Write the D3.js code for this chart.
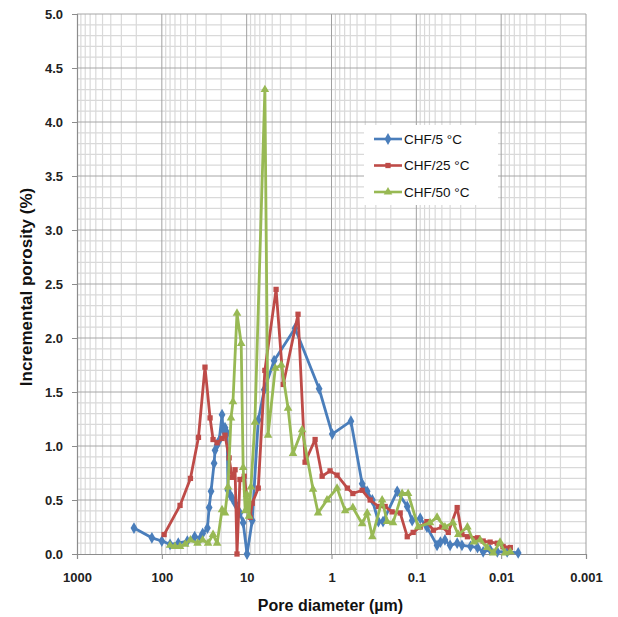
<!DOCTYPE html>
<html>
<head>
<meta charset="utf-8">
<script src="https://cdn.jsdelivr.net/npm/d3@7"></script>
<style>
  body { margin: 0; background: #fff; }
  svg { display: block; }
  .tick-label { font-family: "Liberation Sans", Arial, sans-serif; font-weight: bold; font-size: 13px; fill: #222; }
  .axis-title { font-family: "Liberation Sans", Arial, sans-serif; font-weight: bold; font-size: 16px; fill: #111; }
  .legend text { font-family: "Liberation Sans", Arial, sans-serif; font-size: 13.5px; fill: #111; }
</style>
</head>
<body>
<div id="chart"></div>
<script>
// pore diameter (µm) / incremental porosity (%)
const chf5_d = [213, 131, 100, 80, 64, 50, 41, 35, 33, 29, 27.7, 26.3, 24.2, 23.6, 22.3, 21.1, 19.5, 19.0, 18.0, 17.0,
  16.6, 15.7, 14.9, 13.7, 12.0, 11.0, 9.9, 8.6, 7.3, 6.2, 4.75, 2.69, 1.40, 0.98, 0.59, 0.435, 0.38, 0.33, 0.28, 0.247,
  0.168, 0.128, 0.112, 0.090, 0.075, 0.057, 0.052, 0.046, 0.040, 0.033, 0.029, 0.023, 0.019, 0.0163, 0.0135, 0.0111, 0.0085, 0.0063]
const chf5_v = [0.24, 0.15, 0.12, 0.09, 0.10, 0.12, 0.16, 0.15, 0.19, 0.24, 0.43, 0.58, 0.84, 0.96, 1.01, 1.05, 1.29, 1.15, 1.17, 1.12,
  0.59, 0.55, 0.52, 0.47, 0.38, 0.29, 0.00, 0.31, 1.24, 1.52, 1.79, 2.09, 1.53, 1.11, 1.23, 0.65, 0.58, 0.50, 0.30, 0.30,
  0.58, 0.44, 0.31, 0.33, 0.25, 0.08, 0.11, 0.13, 0.08, 0.10, 0.08, 0.07, 0.06, 0.02, 0.04, 0.02, 0.02, 0.01]

const chf25_d = [94, 61, 46, 37, 31, 27, 24.9, 22.3, 19.5, 18.0, 16.1, 14.9, 13.7, 13.0, 12.0, 10.7, 9.6, 9.1, 8.6, 7.3,
  6.1, 4.5, 3.7, 2.48, 2.05, 1.56, 1.29, 1.04, 0.86, 0.65, 0.56, 0.435, 0.35, 0.28, 0.233, 0.193, 0.155, 0.128, 0.109,
  0.090, 0.075, 0.063, 0.050, 0.042, 0.033, 0.029, 0.025, 0.019, 0.0163, 0.0135, 0.0111, 0.0095, 0.0078]
const chf25_v = [0.18, 0.45, 0.70, 1.08, 1.73, 1.26, 1.06, 1.03, 1.07, 1.10, 0.89, 0.71, 0.78, 0.00, 0.69, 0.72, 0.43, 0.34, 0.47, 0.61,
  1.70, 2.45, 1.57, 2.22, 0.85, 1.06, 0.72, 0.77, 0.73, 0.61, 0.56, 0.59, 0.50, 0.44, 0.44, 0.39, 0.38, 0.16, 0.20,
  0.25, 0.30, 0.22, 0.25, 0.20, 0.43, 0.18, 0.16, 0.15, 0.12, 0.11, 0.10, 0.07, 0.06]

const chf50_d = [80, 70, 61, 53, 46, 38, 33, 28.5, 24.9, 22.3, 19.5, 18.0, 16.6, 15.3, 14.5, 13.0, 11.6, 11.0, 10.4, 9.9,
  9.4, 8.9, 8.0, 6.1, 5.6, 4.6, 3.9, 3.25, 2.84, 2.22, 1.65, 1.44, 1.13, 0.86, 0.69, 0.56, 0.435, 0.38, 0.33, 0.253,
  0.221, 0.188, 0.147, 0.125, 0.095, 0.069, 0.057, 0.046, 0.037, 0.032, 0.025, 0.021, 0.0177, 0.0146, 0.0124, 0.0103, 0.0090, 0.0078]
const chf50_v = [0.08, 0.07, 0.07, 0.09, 0.13, 0.10, 0.13, 0.10, 0.18, 0.10, 0.41, 0.38, 0.62, 1.26, 1.41, 2.23, 1.95, 0.80, 0.40, 0.55,
  0.35, 0.62, 1.22, 4.30, 1.10, 1.72, 1.75, 1.35, 0.93, 1.15, 0.60, 0.38, 0.50, 0.61, 0.40, 0.43, 0.28, 0.38, 0.16, 0.50,
  0.30, 0.29, 0.56, 0.56, 0.25, 0.29, 0.34, 0.25, 0.29, 0.18, 0.25, 0.11, 0.13, 0.06, 0.01, 0.11, 0.01, 0.02]

const series_names = ['CHF/5 °C', 'CHF/25 °C', 'CHF/50 °C']
const x_ticks = [1000, 100, 10, 1, 0.1, 0.01, 0.001]
const x_tick_labels = ['1000', '100', '10', '1', '0.1', '0.01', '0.001']
const y_ticks = [0, 0.5, 1, 1.5, 2, 2.5, 3, 3.5, 4, 4.5, 5]

const W = 618, H = 617
const M = { top: 14, right: 32, bottom: 63, left: 77 }

const colors = ['#4a7ebb', '#be4b48', '#98b954']
const symbols = [d3.symbolDiamond, d3.symbolSquare, d3.symbolTriangle]
const symbol_sizes = [40, 28, 32]

let series = [
  chf5_d.map((d, i) => [d, chf5_v[i]]),
  chf25_d.map((d, i) => [d, chf25_v[i]]),
  chf50_d.map((d, i) => [d, chf50_v[i]])
]

let svg = d3.select('#chart').append('svg')
  .attr('width', W)
  .attr('height', H)

let x = d3.scaleLog()
  .domain([1000, 0.001])
  .range([M.left, W - M.right])

let y = d3.scaleLinear()
  .domain([0, 5])
  .range([H - M.bottom, M.top])

// grid

let grid = svg.append('g').attr('class', 'grid')

let minor_x = []
for (let e = -3; e < 3; e++)
  for (let m = 2; m <= 9; m++) minor_x.push(m * Math.pow(10, e))

grid.selectAll('.vminor')
  .data(minor_x)
  .enter().append('line')
    .attr('x1', (d) => x(d)).attr('x2', (d) => x(d))
    .attr('y1', y(0)).attr('y2', y(5))
    .attr('stroke', '#d9d9d9')
    .attr('stroke-width', 1.2)

grid.selectAll('.hminor')
  .data(d3.range(1, 50).filter((i) => i % 5 !== 0).map((i) => i / 10))
  .enter().append('line')
    .attr('x1', x(1000)).attr('x2', x(0.001))
    .attr('y1', (d) => y(d)).attr('y2', (d) => y(d))
    .attr('stroke', '#d9d9d9')
    .attr('stroke-width', 1.2)

grid.selectAll('.hmajor')
  .data(y_ticks.slice(1))
  .enter().append('line')
    .attr('x1', x(1000)).attr('x2', x(0.001))
    .attr('y1', (d) => y(d)).attr('y2', (d) => y(d))
    .attr('stroke', '#a6a6a6')
    .attr('stroke-width', 1)

grid.selectAll('.vmajor')
  .data(x_ticks.slice(1))
  .enter().append('line')
    .attr('x1', (d) => x(d)).attr('x2', (d) => x(d))
    .attr('y1', y(0)).attr('y2', y(5))
    .attr('stroke', '#a0a0a0')
    .attr('stroke-width', 1)

// axes

let x_axis = d3.axisBottom(x)
  .tickValues(x_ticks)
  .tickFormat((d, i) => x_tick_labels[i])
  .tickSize(5)
  .tickPadding(14)

let y_axis = d3.axisLeft(y)
  .tickValues(y_ticks)
  .tickFormat(d3.format('.1f'))
  .tickSize(5)
  .tickPadding(9)

let gx = svg.append('g')
  .attr('transform', 'translate(0,' + y(0) + ')')
  .call(x_axis)

let gy = svg.append('g')
  .attr('transform', 'translate(' + x(1000) + ',0)')
  .call(y_axis)

;[gx, gy].forEach((g) => {
  g.select('.domain').attr('stroke', '#8c8c8c').attr('stroke-width', 1.2)
  g.selectAll('.tick line').attr('stroke', '#8c8c8c')
  g.selectAll('.tick text').attr('class', 'tick-label').attr('fill', null)
})

svg.append('text')
  .attr('class', 'axis-title')
  .attr('x', (x(1000) + x(0.001)) / 2 - 1)
  .attr('y', 611)
  .attr('text-anchor', 'middle')
  .text('Pore diameter (µm)')

svg.append('text')
  .attr('class', 'axis-title')
  .attr('transform', 'translate(32,' + ((y(0) + y(5)) / 2 + 3) + ') rotate(-90)')
  .attr('text-anchor', 'middle')
  .style('font-size', '17px')
  .text('Incremental porosity (%)')

// series

let line = d3.line()
  .x((d) => x(d[0]))
  .y((d) => y(d[1]))

let plot = svg.append('g').attr('class', 'series')

series.forEach((s, k) => {
  let g = plot.append('g')
  g.append('path')
    .datum(s)
    .attr('d', line)
    .attr('fill', 'none')
    .attr('stroke', colors[k])
    .attr('stroke-width', 2.8)
    .attr('stroke-linejoin', 'round')

  g.selectAll('.pt')
    .data(s)
    .enter().append('path')
      .attr('transform', (d) => 'translate(' + x(d[0]) + ',' + y(d[1]) + ')')
      .attr('d', d3.symbol().type(symbols[k]).size(symbol_sizes[k]))
      .attr('fill', colors[k])
})

// legend

let legend = svg.append('g')
  .attr('class', 'legend')
  .attr('transform', 'translate(364,125)')

legend.append('rect')
  .attr('width', 134)
  .attr('height', 80)
  .attr('fill', '#fff')

let items = legend.selectAll('.item')
  .data(series_names)
  .enter().append('g')
    .attr('transform', (d, i) => 'translate(10,' + (14 + i * 26.5) + ')')

items.append('line')
  .attr('x1', 0).attr('x2', 28)
  .attr('stroke', (d, i) => colors[i])
  .attr('stroke-width', 2.6)

items.append('path')
  .attr('transform', 'translate(14,0)')
  .attr('d', (d, i) => d3.symbol().type(symbols[i]).size(symbol_sizes[i])())
  .attr('fill', (d, i) => colors[i])

items.append('text')
  .attr('x', 30)
  .attr('dy', '0.35em')
  .text((d) => d)
</script>
</body>
</html>
